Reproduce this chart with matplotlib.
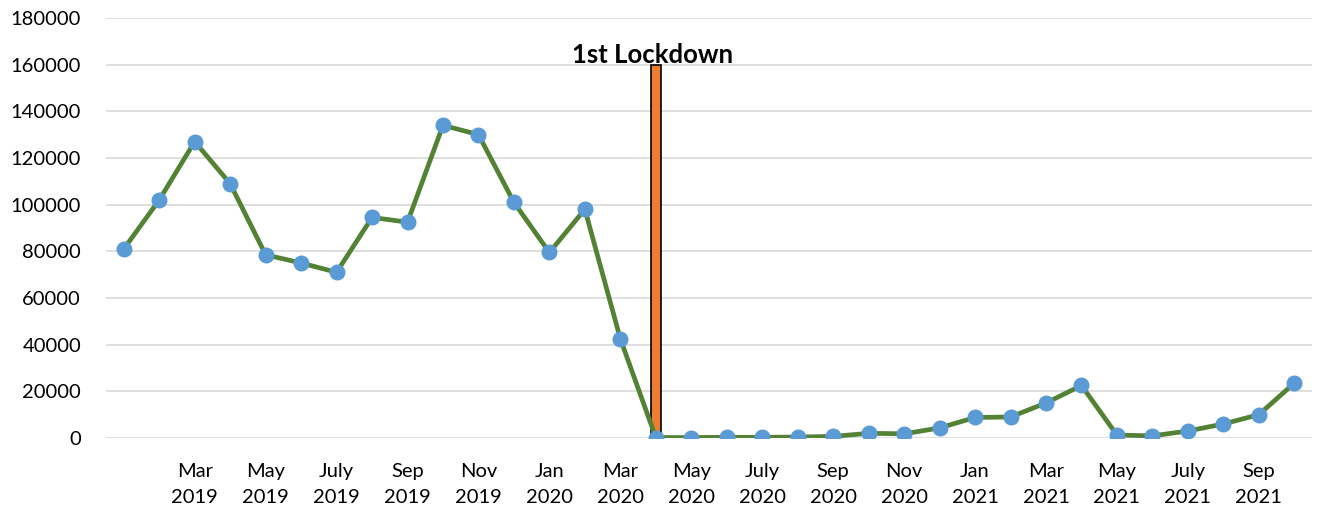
import numpy as np
import matplotlib.pyplot as plt

plt.rcParams['font.family'] = ['Lato', 'DejaVu Sans']

# monthly values, Jan 2019 .. Oct 2021
months = ["Jan", "Feb", "Mar", "Apr", "May", "June", "July", "Aug", "Sep", "Oct", "Nov", "Dec"]
years = [2019, 2020, 2021]
values = [81000, 102000, 127000, 109000, 78500, 75000, 71000, 94500, 92500, 134000,
          130000, 101000, 79500, 98000, 42500, 200, 200, 300, 300, 400,
          700, 2000, 1800, 4300, 8800, 9000, 15000, 22500, 1300, 900,
          3000, 6000, 10000, 23500]

labels = [f"{months[i % 12]}\n{years[i // 12]}" for i in range(len(values))]
lockdown_idx = 15          # Apr 2020
lockdown_height = 160000
lockdown_label = "1st Lockdown"

x = np.arange(len(values))

fig = plt.figure(figsize=(13.17, 5.13), dpi=100)
ax = fig.add_axes([0.0805, 0.1462, 0.9157, 0.8188])

ax.bar(x[lockdown_idx], lockdown_height, width=0.28, color="#ED7D31",
       edgecolor="black", linewidth=1.2, zorder=2)
ax.plot(x, values, color="#548235", linewidth=3.4, zorder=3)
ax.plot(x, values, linestyle="none", marker="o", markersize=10.5,
        color="#5B9BD5", zorder=4)
ax.text(x[lockdown_idx] - 0.1, lockdown_height + 800, lockdown_label, ha="center",
        va="baseline", fontsize=18.5, fontweight="bold")

ax.set_xlim(-0.5, len(values) - 0.5)
ax.set_ylim(0, 180000)
ax.set_yticks(np.arange(0, 180001, 20000))
tick_pos = x[2::2]
ax.set_xticks(tick_pos)
ax.set_xticklabels([labels[i] for i in tick_pos], linespacing=1.65)
ax.tick_params(length=0, labelsize=14.5, colors="black")
ax.tick_params(axis="y", pad=18)
ax.tick_params(axis="x", pad=18)
ax.grid(axis="y", color="#D9D9D9", linewidth=1.2)
ax.set_axisbelow(True)
for s in ax.spines.values():
    s.set_visible(False)

fig.savefig("out.png", dpi=100)
